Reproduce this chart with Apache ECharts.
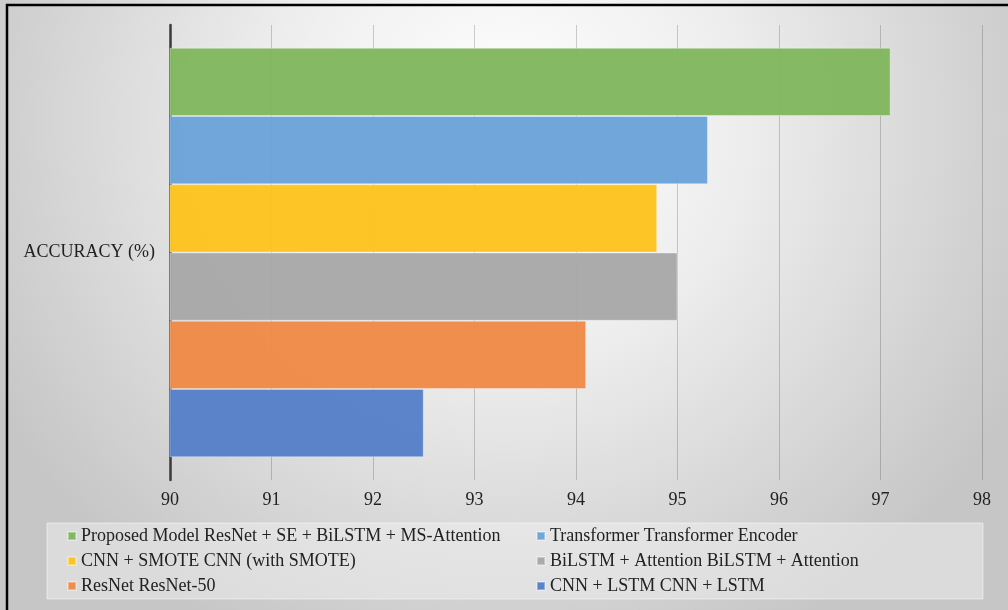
<!DOCTYPE html>
<html>
<head>
<meta charset="utf-8">
<script src="https://cdn.jsdelivr.net/npm/echarts@6/dist/echarts.min.js"></script>
<style>
  html, body { margin: 0; padding: 0; }
  #chart { width: 1008px; height: 610px; }
</style>
</head>
<body>
<div id="chart"></div>
<script>
// Accuracy of each model (%), one bar per model
const categories = ['ACCURACY (%)'];
const modelNames = [
  'Proposed Model ResNet + SE + BiLSTM + MS-Attention',
  'Transformer Transformer Encoder',
  'CNN + SMOTE CNN (with SMOTE)',
  'BiLSTM + Attention BiLSTM + Attention',
  'ResNet ResNet-50',
  'CNN + LSTM CNN + LSTM'
];
const accuracyValues = [97.1, 95.3, 94.8, 95.0, 94.1, 92.5];
const barColors = ['#82b75f', '#6ba3d8', '#fdc31f', '#a8a8a8', '#ee8a47', '#5780c8'];
const xTicks = { min: 90, max: 98, step: 1 };

const FONT = '"Liberation Serif", "Times New Roman", serif';

const chart = echarts.init(document.getElementById('chart'), null, { renderer: 'canvas' });

const series = modelNames.map((name, i) => ({
  name: name,
  type: 'bar',
  data: [accuracyValues[i]],
  barGap: '0%',
  barCategoryGap: '10%',
  itemStyle: {
    color: barColors[i],
    opacity: 0.97,
    borderColor: 'rgba(255,255,255,0.35)',
    borderWidth: 1
  },
  emphasis: { disabled: true }
}));

const legendText = { fontFamily: FONT, fontSize: 18, color: '#222', lineHeight: 18 };

chart.setOption({
  animation: false,
  graphic: [
    {
      type: 'rect', z: -100, silent: true,
      shape: { x: 0, y: 0, width: 1008, height: 610 },
      style: {
        fill: new echarts.graphic.RadialGradient(0.5, 0.2, 0.95, [
          { offset: 0, color: '#ffffff' },
          { offset: 0.4, color: '#eeeeee' },
          { offset: 1, color: '#c6c6c6' }
        ])
      }
    },
    {
      type: 'polyline', z: 100, silent: true,
      shape: { points: [[7, 610], [7, 5], [1008, 5]] },
      style: { stroke: '#000', lineWidth: 2.5, fill: null }
    },
    {
      type: 'rect', z: -50, silent: true,
      shape: { x: 47, y: 523, width: 936, height: 76 },
      style: { fill: 'rgba(245,245,245,0.45)', stroke: 'rgba(255,255,255,0.5)', lineWidth: 1 }
    }
  ],
  grid: { left: 170, right: 26, top: 25, bottom: 130, containLabel: false },
  xAxis: {
    type: 'value',
    min: xTicks.min,
    max: xTicks.max,
    interval: xTicks.step,
    axisLine: { show: false },
    axisTick: { show: false },
    axisLabel: { fontFamily: FONT, fontSize: 18, color: '#222', margin: 11 },
    splitLine: { show: true, lineStyle: { color: 'rgba(0,0,0,0.18)', width: 1 } }
  },
  yAxis: {
    type: 'category',
    data: categories,
    inverse: true,
    axisLine: { show: true, lineStyle: { color: '#3a3a3a', width: 2.5 } },
    axisTick: { show: false },
    axisLabel: { fontFamily: FONT, fontSize: 18, color: '#222', margin: 15 }
  },
  legend: [
    {
      orient: 'vertical', left: 62, top: 522,
      itemWidth: 8, itemHeight: 8, itemGap: 7, icon: 'rect',
      textStyle: legendText, selectedMode: false,
      data: [modelNames[0], modelNames[2], modelNames[4]]
    },
    {
      orient: 'vertical', left: 531, top: 522,
      itemWidth: 8, itemHeight: 8, itemGap: 7, icon: 'rect',
      textStyle: legendText, selectedMode: false,
      data: [modelNames[1], modelNames[3], modelNames[5]]
    }
  ],
  series: series
});
</script>
</body>
</html>
